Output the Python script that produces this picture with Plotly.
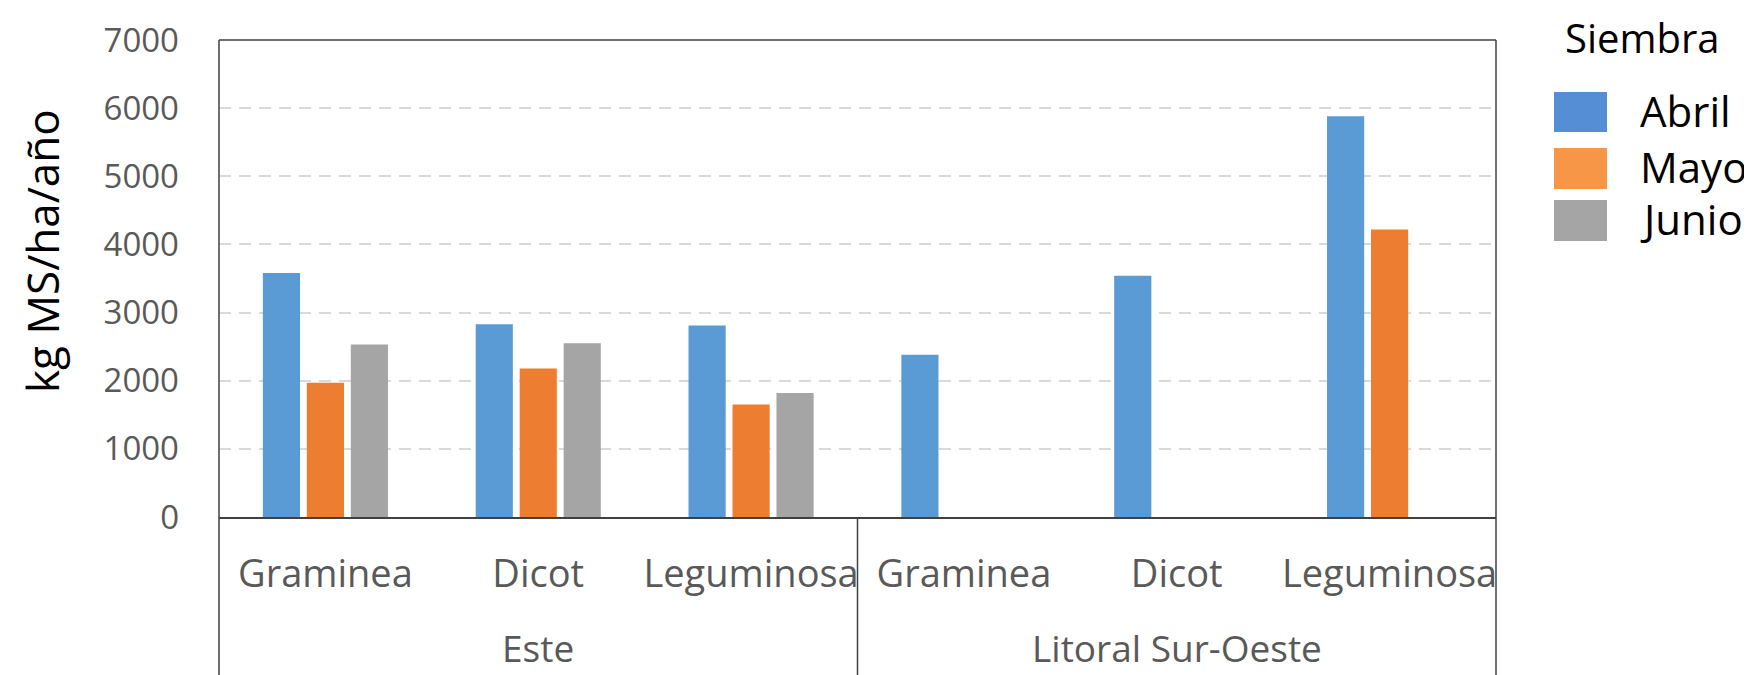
import plotly.graph_objects as go

# datos
regiones = ['Este', 'Este', 'Este', 'Litoral Sur-Oeste', 'Litoral Sur-Oeste', 'Litoral Sur-Oeste']
grupos = ['Graminea', 'Dicot', 'Leguminosa', 'Graminea', 'Dicot', 'Leguminosa']
abril = [3580, 2830, 2810, 2380, 3540, 5880]
mayo = [1970, 2180, 1650, None, None, 4220]
junio = [2530, 2550, 1820, None, None, None]

series = ['Abril', 'Mayo', 'Junio']
colores_barra = ['#5B9BD5', '#ED7D31', '#A5A5A5']
colores_leyenda = ['#558ED5', '#F79646', '#A5A5A5']

OFF = 8  # margen del body de la pagina
W, H = 1752 - OFF, 675 - OFF
L, R, T, B = 219, 1496, 40, 517   # area del grafico en pixeles de la captura
FONT = 'Open Sans'
GRIS = '#595959'

def px(x):
    return (x - L) / (R - L)

def py(y):
    return (B - y) / (B - T)

claves = [r + '|' + g for r, g in zip(regiones, grupos)]

fig = go.Figure()
for nombre, vals, c in zip(series, [abril, mayo, junio], colores_barra):
    fig.add_trace(go.Bar(x=claves, y=vals, name=nombre,
                         marker=dict(color=c, line=dict(width=0))))

fig.update_layout(
    width=W, height=H,
    margin=dict(l=L - OFF, r=W - (R - OFF), t=T - OFF, b=H - (B - OFF), autoexpand=False),
    plot_bgcolor='white', paper_bgcolor='white',
    barmode='group', bargap=0.38, bargroupgap=0.155,
    showlegend=False,
    font=dict(family=FONT, color=GRIS),
)

fig.update_yaxes(
    range=[0, 7000], dtick=1000, tickformat='d',
    showgrid=True, gridcolor='#D9D9D9', gridwidth=2, griddash='12px,8px',
    zeroline=False, showline=False,
    tickfont=dict(size=33, color=GRIS), ticklabelstandoff=39,
)
fig.update_xaxes(
    type='category', tickvals=claves, ticktext=grupos, showgrid=False,
    showline=True, linecolor='#404040', linewidth=2, ticks='',
    tickfont=dict(size=38, color=GRIS), ticklabelstandoff=22,
)

# titulo del eje y
fig.add_annotation(text='kg MS/ha/año', xref='paper', yref='paper', x=px(42), y=py(251),
                   textangle=-90, showarrow=False, xanchor='center', yanchor='middle',
                   font=dict(size=44, color='black'))

# etiquetas de region
for reg, xc in [('Este', 0.25), ('Litoral Sur-Oeste', 0.75)]:
    fig.add_annotation(text=reg, xref='paper', yref='paper', x=xc, y=py(647),
                       showarrow=False, xanchor='center', yanchor='middle',
                       font=dict(size=37, color=GRIS))

# marco del grafico
lc = dict(color='#404040', width=1.5)
yb = -(H - B) / (B - T) - 0.05
fig.add_shape(type='line', xref='paper', yref='paper', x0=0, x1=1, y0=1, y1=1, line=lc)
fig.add_shape(type='line', xref='paper', yref='paper', x0=0, x1=0, y0=1, y1=yb, line=lc)
fig.add_shape(type='line', xref='paper', yref='paper', x0=1, x1=1, y0=1, y1=yb, line=lc)
fig.add_shape(type='line', xref='paper', yref='paper', x0=0.5, x1=0.5, y0=0, y1=yb, line=lc)

# leyenda
fig.add_annotation(text='Siembra', xref='paper', yref='paper', x=px(1642), y=py(OFF),
                   showarrow=False, xanchor='center', yanchor='top',
                   font=dict(size=40, color='black'))
cajas = [(92, 132), (148, 189), (200, 241)]
for nombre, c, (y0, y1) in zip(series, colores_leyenda, cajas):
    fig.add_shape(type='rect', xref='paper', yref='paper',
                  x0=px(1554), x1=px(1607), y0=py(y1), y1=py(y0),
                  fillcolor=c, line=dict(width=0))
    fig.add_annotation(text=nombre, xref='paper', yref='paper', x=px(1638), y=py((y0 + y1) / 2 - 2),
                       xanchor='left', yanchor='middle', showarrow=False,
                       font=dict(size=42, color='black'))

fig.write_html('out.html')
